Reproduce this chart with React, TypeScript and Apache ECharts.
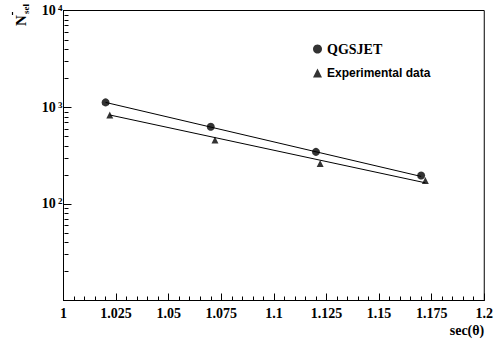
import React, { useEffect, useRef } from "react";
import * as echarts from "echarts";

const qgsX = [1.02, 1.07, 1.12, 1.17];
const qgsY = [1120, 628, 345, 196];
const expX = [1.022, 1.072, 1.122, 1.172];
const expY = [830, 458, 262, 174];
const qgsFitX = [1.02, 1.17];
const qgsFitY = [1120, 192];
const expFitX = [1.022, 1.172];
const expFitY = [830, 165];
const minorDecadeFactors = [2, 3, 4, 5, 6, 7, 8, 9];
const decades = [10, 100, 1000];

const SERIF = "Liberation Serif";
const SANS = "Liberation Sans";

export default function App() {
  const ref = useRef<HTMLDivElement>(null);
  useEffect(() => {
    if (!ref.current) return;
    const chart = echarts.init(ref.current, null, { renderer: "svg" });
    const zip = (xs: number[], ys: number[]) => xs.map((x, i) => [x, ys[i]]);
    const option: any = {
      animation: false,
      backgroundColor: "#fff",
      grid: {
        left: 63.5,
        top: 10.5,
        right: 9.5,
        bottom: 41.5,
        show: true,
        borderColor: "#000",
        borderWidth: 1,
        backgroundColor: "transparent",
      },
      legend: {
        orient: "vertical",
        left: 308,
        top: 37,
        itemWidth: 9,
        itemHeight: 9,
        itemGap: 11,
        data: [
          { name: "QGSJET", icon: "circle" },
          { name: "Experimental data", icon: "triangle" },
        ],
        formatter: (n: string) => (n === "QGSJET" ? `{a|${n}}` : `{b|${n}}`),
        textStyle: {
          color: "#000",
          rich: {
            a: { fontFamily: SERIF, fontWeight: "bold", fontSize: 14, color: "#000" },
            b: { fontFamily: SANS, fontWeight: "bold", fontSize: 12, color: "#000" },
          },
        },
      },
      xAxis: {
        type: "value",
        min: 1,
        max: 1.2,
        interval: 0.025,
        name: "sec(θ)",
        nameLocation: "end",
        nameGap: 0,
        nameTextStyle: {
          fontFamily: SERIF,
          fontWeight: "bold",
          fontSize: 14,
          color: "#000",
          align: "right",
          verticalAlign: "top",
          padding: [23, 0, 0, 0],
        },
        axisLine: { show: true, lineStyle: { color: "#000", width: 1 } },
        axisTick: { show: true, inside: true, length: 7, lineStyle: { color: "#000" } },
        minorTick: { show: true, splitNumber: 5, length: 4, lineStyle: { color: "#000" } },
        splitLine: { show: false },
        axisLabel: {
          color: "#000",
          fontFamily: SERIF,
          fontWeight: "bold",
          fontSize: 14,
          margin: 6,
          formatter: (v: number) => String(parseFloat(v.toFixed(3))),
        },
      },
      yAxis: {
        type: "log",
        logBase: 10,
        min: 10,
        max: 10000,
        axisLine: { show: true, lineStyle: { color: "#000", width: 1 } },
        axisTick: { show: true, inside: true, length: 8, lineStyle: { color: "#000" } },
        minorTick: { show: false },
        splitLine: { show: false },
        axisLabel: {
          margin: 1,
          formatter: (v: number) => {
            if (v <= 10) return "";
            const e = Math.round(Math.log10(v));
            return `{b|10}{s| ${e}}`;
          },
          rich: {
            b: { fontFamily: SERIF, fontWeight: "bold", fontSize: 14, color: "#000", lineHeight: 14 },
            s: { fontFamily: SERIF, fontWeight: "bold", fontSize: 9, color: "#000", verticalAlign: "top", lineHeight: 10, padding: [0, 0, 3, 0] },
          },
        },
      },
      series: [
        {
          name: "QGSJET",
          type: "scatter",
          symbol: "circle",
          symbolSize: 8,
          itemStyle: { color: "#000" },
          data: zip(qgsX, qgsY),
          z: 5,
        },
        {
          name: "Experimental data",
          type: "scatter",
          symbol: "triangle",
          symbolSize: 7,
          itemStyle: { color: "#000" },
          data: zip(expX, expY),
          z: 5,
        },
        {
          name: "qgsFit",
          type: "line",
          showSymbol: false,
          symbol: "none",
          lineStyle: { color: "#000", width: 1 },
          data: zip(qgsFitX, qgsFitY),
        },
        {
          name: "expFit",
          type: "line",
          showSymbol: false,
          symbol: "none",
          lineStyle: { color: "#000", width: 1 },
          data: zip(expFitX, expFitY),
        },
      ],
    };
    chart.setOption(option);

    const x0 = Math.round(chart.convertToPixel({ xAxisIndex: 0 }, 1) as number) + 0.5;
    const minorTicks: any[] = [];
    decades.forEach((d) => {
      minorDecadeFactors.forEach((f) => {
        const y = Math.round(chart.convertToPixel({ yAxisIndex: 0 }, d * f) as number) + 0.5;
        minorTicks.push({
          type: "line",
          shape: { x1: x0, y1: y, x2: x0 + 4, y2: y },
          style: { stroke: "#000", lineWidth: 1 },
          silent: true,
        });
      });
    });
    chart.setOption({
      graphic: [
        ...minorTicks,
        {
          type: "group",
          x: 20.5,
          y: 26,
          rotation: Math.PI / 2,
          children: [
            {
              type: "text",
              x: 0,
              y: 0,
              style: {
                text: "N",
                font: `bold 15px ${SERIF}`,
                fill: "#000",
                align: "left",
                verticalAlign: "middle",
              },
            },
            {
              type: "text",
              x: 12,
              y: 5.5,
              style: {
                text: "sel",
                font: `bold 9px ${SERIF}`,
                fill: "#000",
                align: "left",
                verticalAlign: "middle",
              },
            },
            {
              type: "line",
              shape: { x1: 11, y1: -8, x2: 14, y2: -8 },
              style: { stroke: "#000", lineWidth: 1.2 },
            },
          ],
        },
      ],
    });
    return () => chart.dispose();
  }, []);
  return (
    <div
      ref={ref}
      style={{ position: "absolute", left: 0, top: 0, width: 496, height: 342 }}
    />
  );
}
